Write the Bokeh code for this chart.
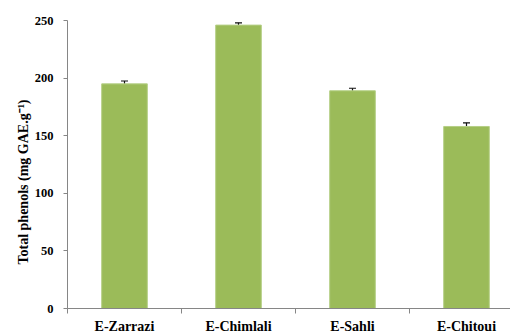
from bokeh.plotting import figure
from bokeh.models import Range1d, FixedTicker, ColumnDataSource, Whisker, TeeHead
from bokeh.embed import file_html
from bokeh.resources import INLINE

categories = ["E-Zarrazi", "E-Chimlali", "E-Sahli", "E-Chitoui"]
values = [195, 246, 189, 158]
errors = [2.5, 2.0, 2.2, 3.2]
y_ticks = [0, 50, 100, 150, 200, 250]

xs = [i + 0.5 for i in range(len(categories))]
src = ColumnDataSource(dict(
    x=xs, top=values,
    upper=[v + e for v, e in zip(values, errors)],
    lower=[v - e for v, e in zip(values, errors)],
))

p = figure(width=510, height=336, output_backend="svg", toolbar_location=None,
           x_range=Range1d(0, 3.886), y_range=Range1d(0, 250),
           min_border_left=67, min_border_right=0, min_border_top=20, min_border_bottom=27)
p.outline_line_color = None
p.xgrid.visible = False
p.ygrid.visible = False
p.background_fill_color = "white"
p.border_fill_color = "white"

p.vbar(x="x", top="top", width=0.4, bottom=0, source=src,
       fill_color="#9BBB59", line_color="#B5CF85", line_width=1)

w = Whisker(base="x", upper="upper", lower="lower", source=src,
            line_color="#111111", line_width=1.2,
            upper_head=TeeHead(size=7, line_color="#111111", line_width=1.2),
            lower_head=TeeHead(size=7, line_color="#111111", line_width=1.2))
p.add_layout(w)

font = "Liberation Serif"

xa = p.xaxis[0]
xa.ticker = FixedTicker(ticks=xs, minor_ticks=[0, 1, 2, 3])
xa.major_label_overrides = {x: c for x, c in zip(xs, categories)}
xa.major_tick_out = 0
xa.major_tick_in = 0
xa.minor_tick_out = 5
xa.minor_tick_in = 0
xa.minor_tick_line_color = "#868686"
xa.axis_line_color = "#868686"
xa.major_label_text_font = font
xa.major_label_text_font_style = "bold"
xa.major_label_text_font_size = "14px"
xa.major_label_text_color = "black"
xa.major_label_standoff = 5

ya = p.yaxis[0]
ya.ticker = FixedTicker(ticks=y_ticks, minor_ticks=[])
ya.major_tick_out = 4
ya.major_tick_in = 0
ya.major_tick_line_color = "#868686"
ya.axis_line_color = "#868686"
ya.major_label_text_font = font
ya.major_label_text_font_style = "bold"
ya.major_label_text_font_size = "12.5px"
ya.major_label_text_color = "black"
ya.major_label_standoff = 10
ya.axis_label = "Total phenols (mg GAE.g\u207b\u00b9)" + "\u2002" * 5
ya.axis_label_text_font = font
ya.axis_label_text_font_style = "bold"
ya.axis_label_text_font_size = "14px"
ya.axis_label_text_color = "black"
ya.axis_label_standoff = 1

open("out.html", "w").write(file_html(p, INLINE))
